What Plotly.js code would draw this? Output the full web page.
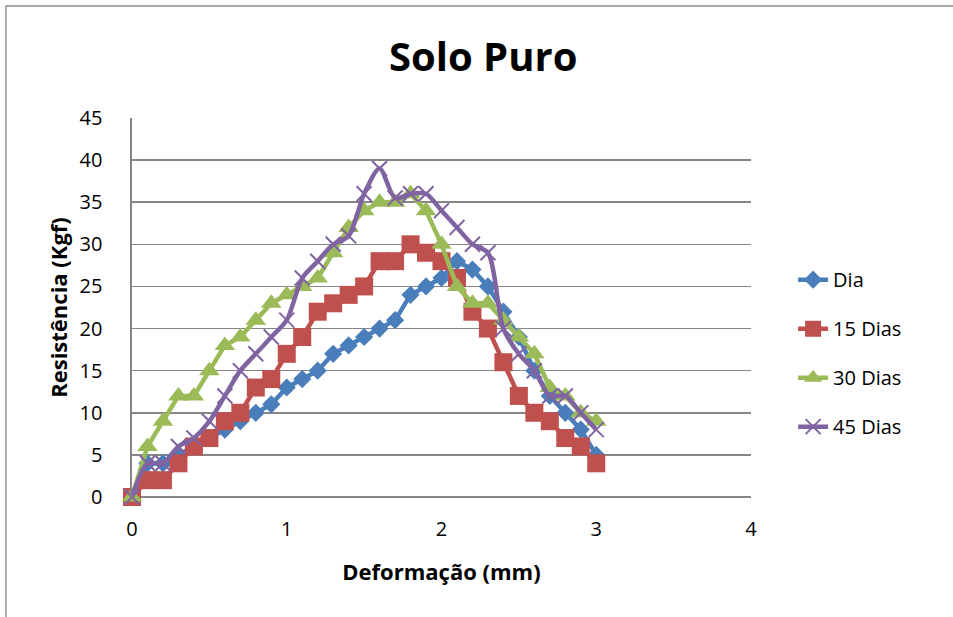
<!DOCTYPE html>
<html>
<head>
<meta charset="utf-8">
<script src="https://cdn.plot.ly/plotly-3.0.1.min.js"></script>
<style>
  html, body { margin: 0; padding: 0; background: #ffffff; }
  #chart { width: 953px; height: 617px; }
</style>
</head>
<body>
<div id="chart"></div>
<script>
// Deformação (mm): leituras a cada 0,1 mm
const deformacao = [0, 0.1, 0.2, 0.3, 0.4, 0.5, 0.6, 0.7, 0.8, 0.9,
                    1.0, 1.1, 1.2, 1.3, 1.4, 1.5, 1.6, 1.7, 1.8, 1.9,
                    2.0, 2.1, 2.2, 2.3, 2.4, 2.5, 2.6, 2.7, 2.8, 2.9, 3.0];

// Resistência (Kgf) por idade de cura
const dia     = [0, 4, 4, 5, 6, 7, 8, 9, 10, 11, 13, 14, 15, 17, 18, 19, 20, 21, 24, 25,
                 26, 28, 27, 25, 22, 19, 15, 12, 10, 8, 5];
const dias15  = [0, 2, 2, 4, 6, 7, 9, 10, 13, 14, 17, 19, 22, 23, 24, 25, 28, 28, 30, 29,
                 28, 26, 22, 20, 16, 12, 10, 9, 7, 6, 4];
const dias30  = [0, 6, 9, 12, 12, 15, 18, 19, 21, 23, 24, 25, 26, 29, 32, 34, 35, 35, 36, 34,
                 30, 25, 23, 23, 21, 19, 17, 13, 12, 10, 9];
const dias45  = [0, 4, 4, 6, 7, 9, 12, 15, 17, 19, 21, 26, 28, 30, 31, 36, 39, 35.5, 36, 36,
                 34, 32, 30, 29, 20, 17, 15, 12, 12, 10, 8];

const seriesNames = ['Dia', '15 Dias', '30 Dias', '45 Dias'];
const xTicks = [0, 1, 2, 3, 4];
const yTicks = [0, 5, 10, 15, 20, 25, 30, 35, 40, 45];

const FONT = '"Open Sans", "Liberation Sans", sans-serif';

function serie(name, y, color, symbol, size, extra) {
  return Object.assign({
    type: 'scatter',
    mode: 'lines+markers',
    name: name,
    legendgroup: name,
    x: deformacao,
    y: y,
    cliponaxis: false,
    line: { color: color, width: 4.5 },
    marker: { color: color, symbol: symbol, size: size }
  }, extra || {});
}

const traces = [
  serie(seriesNames[0], dia,    '#4a7ebb', 'diamond',     14),
  serie(seriesNames[1], dias15, '#c0504d', 'square',      18),
  serie(seriesNames[2], dias30, '#9bbb59', 'triangle-up', 18),
  serie(seriesNames[3], dias45, '#8064a2', 'x-thin-open', 15, {
    line: { color: '#8064a2', width: 4.5, shape: 'spline', smoothing: 0.8 },
    marker: { color: '#8064a2', symbol: 'x-thin-open', size: 15, line: { color: '#8064a2', width: 2 } }
  })
];

const layout = {
  width: 953,
  height: 617,
  paper_bgcolor: '#ffffff',
  plot_bgcolor: '#ffffff',
  margin: { l: 132, r: 202, t: 118, b: 120, pad: 0 },
  font: { family: FONT, size: 20, color: '#000000' },
  title: {
    text: '<b>Solo Puro</b>',
    font: { family: FONT, size: 40, color: '#000000' },
    x: 0.507, xanchor: 'center',
    y: 0.907, yanchor: 'middle'
  },
  showlegend: true,
  legend: {
    x: 1.068, xanchor: 'left',
    y: 0.625, yanchor: 'top',
    font: { family: FONT, size: 20, color: '#000000' },
    tracegroupgap: 20,
    bgcolor: 'rgba(0,0,0,0)',
    itemwidth: 30
  },
  xaxis: {
    range: [0, 4],
    tickvals: xTicks,
    ticktext: xTicks.map(String),
    showgrid: false,
    zeroline: false,
    showline: false,
    ticks: '',
    ticklabelstandoff: 18,
    tickfont: { family: FONT, size: 20, color: '#000000' },
    title: {
      text: '<b>Deformação (mm)</b>',
      font: { family: FONT, size: 22, color: '#000000' },
      standoff: 23
    },
    fixedrange: true
  },
  yaxis: {
    range: [0, 45],
    tickvals: yTicks,
    ticktext: yTicks.map(String),
    showgrid: true,
    gridcolor: '#868686',
    gridwidth: 1.6,
    zeroline: true,
    zerolinecolor: '#868686',
    zerolinewidth: 1.6,
    showline: true,
    linecolor: '#868686',
    linewidth: 1.6,
    ticks: '',
    ticklabelstandoff: 24,
    tickfont: { family: FONT, size: 20, color: '#000000' },
    title: {
      text: '<b>Resistência (Kgf)</b>',
      font: { family: FONT, size: 22, color: '#000000' },
      standoff: 6
    },
    fixedrange: true
  },
  shapes: [
    {
      type: 'rect', xref: 'paper', yref: 'paper',
      x0: -0.2036, x1: 1.36, y0: -0.34, y1: 1.2955,
      line: { color: '#8a8a8a', width: 1.4 },
      fillcolor: 'rgba(0,0,0,0)', layer: 'below'
    }
  ]
};

Plotly.newPlot('chart', traces, layout, { staticPlot: true, displayModeBar: false });
</script>
</body>
</html>
